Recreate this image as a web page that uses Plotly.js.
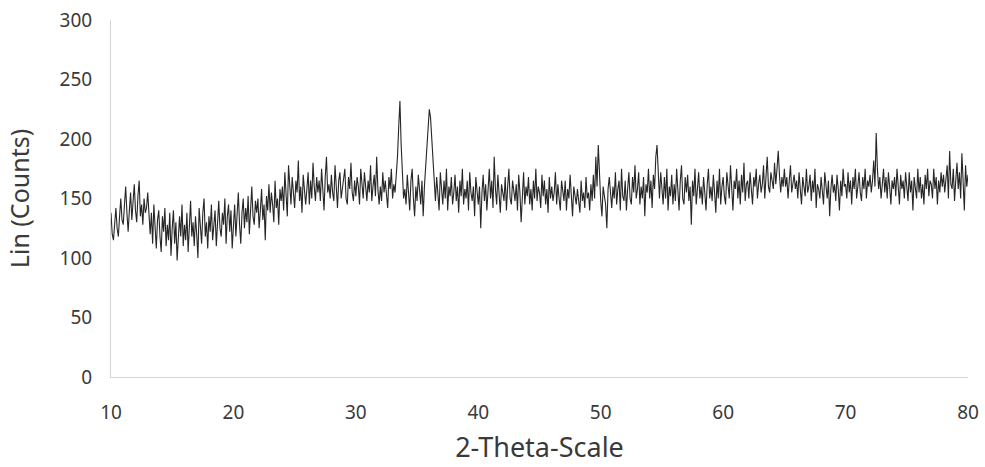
<!DOCTYPE html>
<html>
<head>
<meta charset="utf-8">
<script src="https://cdn.plot.ly/plotly-3.0.1.min.js"></script>
<style>html,body{margin:0;padding:0;background:#fff;}#chart{width:985px;height:467px;}</style>
</head>
<body>
<div id="chart"></div>
<script>
// 2-Theta start and step (degrees)
const thetaStart = 10;
const thetaStep = 0.1;
// Intensity readings (Lin counts), one row per degree from 10 to 80
const counts = [
138,120,115,128,142,125,118,135,150,132,
128,145,160,138,122,140,155,132,148,162,
140,130,152,165,135,145,128,150,138,142,
155,130,120,138,112,145,125,108,132,140,
118,105,135,122,142,110,128,115,138,102,
125,140,112,130,98,120,135,118,145,110,
128,115,138,105,122,148,118,130,110,135,
120,100,142,125,112,138,150,118,130,108,
135,122,145,115,128,140,110,132,148,125,
118,138,128,150,112,135,145,122,140,108,
132,145,118,140,155,128,112,138,150,125,
142,130,152,120,145,160,135,128,148,138,
150,125,140,158,132,145,115,152,140,162,
138,155,145,130,165,142,150,128,158,148,
160,140,172,150,135,178,155,145,168,150,
142,165,155,182,148,160,138,170,152,145,
158,172,145,165,150,180,160,148,168,155,
165,148,175,158,140,168,185,155,162,150,
170,155,148,178,160,142,165,172,150,158,
162,175,150,145,168,158,180,155,148,165,
152,168,160,145,175,158,150,172,162,148,
165,155,178,148,160,170,152,185,158,145,
160,148,172,155,165,150,142,168,158,175,
150,162,155,170,185,210,232,195,165,150,
158,145,170,152,140,165,175,150,135,160,
148,170,155,145,165,135,160,178,190,215,
225,218,200,175,160,148,168,155,140,172,
158,145,165,150,175,140,160,152,168,145,
155,170,148,160,138,165,152,175,145,158,
150,165,140,172,155,148,160,135,168,152,
145,160,125,155,170,148,162,140,158,175,
150,165,142,185,158,145,170,152,138,162,
155,148,168,140,160,175,150,145,165,158,
148,162,140,170,155,130,158,172,145,160,
152,168,145,158,140,165,150,175,148,160,
155,142,170,152,165,145,158,138,168,150,
160,148,155,172,145,162,150,140,165,155,
148,165,140,158,150,170,145,135,160,152,
145,158,150,138,165,148,155,142,168,150,
155,140,162,148,170,150,185,160,195,165,
148,135,160,152,145,125,158,168,150,142,
160,150,172,145,158,165,140,175,152,148,
165,140,158,172,150,145,168,155,178,150,
158,172,145,160,150,168,135,162,155,175,
150,165,142,170,158,185,195,165,150,172,
158,145,168,150,175,140,160,152,170,145,
162,148,175,155,140,165,178,150,145,168,
155,170,148,160,128,165,152,175,145,158,
172,150,160,145,168,155,140,162,175,150,
160,148,170,155,138,165,150,175,145,160,
168,152,145,172,160,150,178,155,140,165,
158,175,150,165,145,170,155,180,148,162,
165,150,172,158,145,168,160,175,150,162,
170,155,162,178,150,168,185,160,155,172,
165,158,180,162,175,190,170,155,168,160,
175,160,168,150,165,178,155,162,170,158,
165,150,172,158,145,168,160,152,175,155,
160,170,148,165,155,175,142,162,158,150,
168,155,145,172,160,150,165,135,158,170,
155,162,148,170,158,140,165,152,175,160,
162,150,172,155,165,145,168,158,175,150,
160,172,155,148,168,158,175,150,165,160,
170,155,165,182,160,205,175,158,168,150,
162,175,155,168,150,172,160,145,165,158,
168,152,175,160,145,170,158,165,150,172,
160,148,172,155,165,140,168,158,150,175,
155,168,150,162,145,170,158,175,152,165,
162,150,175,158,168,145,165,155,172,160,
170,155,165,178,150,190,162,158,175,148,
165,180,158,172,150,188,165,140,178,160,
170
];
const xTicks = [10,20,30,40,50,60,70,80];
const yTicks = [0,50,100,150,200,250,300];

const theta = counts.map((_, i) => +(thetaStart + i * thetaStep).toFixed(2));

const trace = {
  x: theta, y: counts, type: 'scatter', mode: 'lines',
  line: {color: '#262626', width: 1.1}, hoverinfo: 'skip'
};

const font = "'Noto Sans', 'Open Sans', sans-serif";
const layout = {
  width: 985, height: 467,
  margin: {l: 111, r: 17, t: 20, b: 90},
  paper_bgcolor: '#ffffff', plot_bgcolor: '#ffffff',
  showlegend: false,
  font: {family: font, color: '#3a3a3a'},
  xaxis: {
    range: [10, 80], tickvals: xTicks, ticktext: xTicks.map(String),
    showgrid: false, zeroline: false, showline: true, linecolor: '#d4d4d4', linewidth: 1,
    ticks: '', tickfont: {size: 19, color: '#3a3a3a'}, ticklabelstandoff: 18,
    title: {text: '2-Theta-Scale', font: {size: 27, color: '#3a3a3a'}, standoff: 14}
  },
  yaxis: {
    range: [0, 300], tickvals: yTicks, ticktext: yTicks.map(String),
    showgrid: false, zeroline: false, showline: true, linecolor: '#d4d4d4', linewidth: 1,
    ticks: '', tickfont: {size: 19, color: '#3a3a3a'}, ticklabelstandoff: 14,
    title: {text: 'Lin (Counts)', font: {size: 25, color: '#3a3a3a'}, standoff: 22}
  }
};
Plotly.newPlot('chart', [trace], layout, {displayModeBar: false, staticPlot: true});
</script>
</body>
</html>
